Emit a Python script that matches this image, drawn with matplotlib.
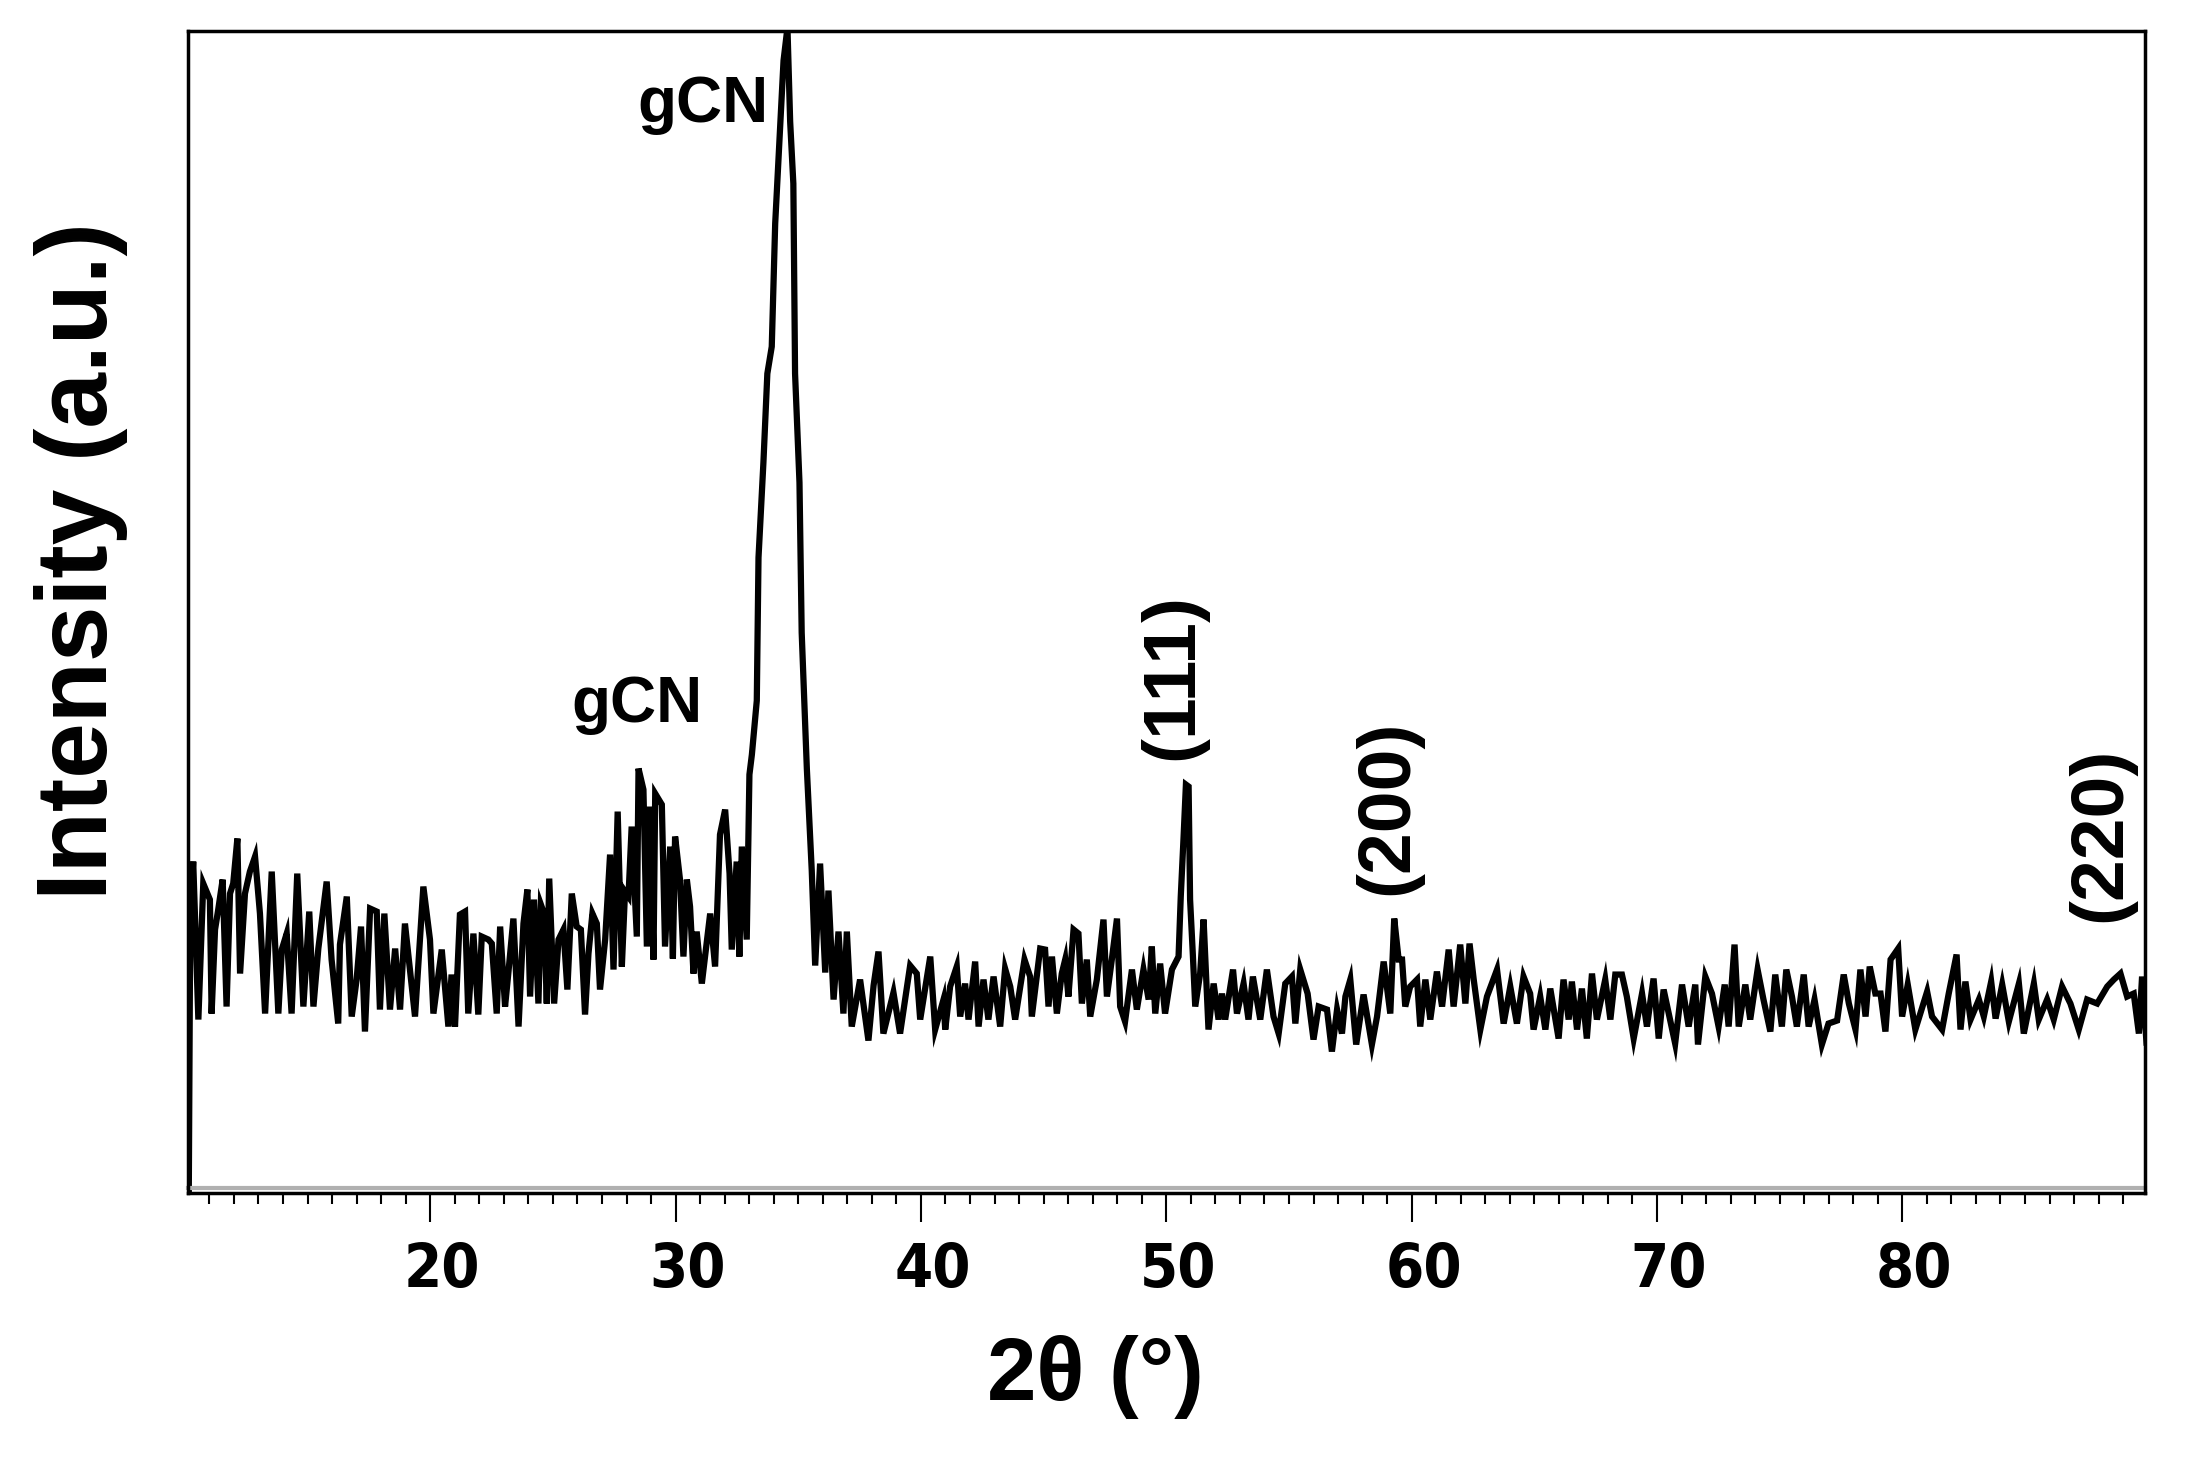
import matplotlib.pyplot as plt
from matplotlib.ticker import MultipleLocator
from matplotlib.transforms import ScaledTranslation

# 2-theta (degrees) and intensity (a.u.)
two_theta = [
    10.16, 10.22, 10.34, 10.55, 10.75, 11.02, 11.09, 11.23, 11.36, 11.54, 11.70, 11.84, 11.97,
    12.14, 12.25, 12.45, 12.65, 12.86, 13.06, 13.27, 13.54, 13.81, 13.95, 14.15, 14.35, 14.58,
    14.83, 15.07, 15.24, 15.44, 15.78, 15.98, 16.25, 16.32, 16.60, 16.80, 17.00, 17.18, 17.34,
    17.55, 17.82, 17.95, 18.13, 18.36, 18.57, 18.77, 18.97, 19.38, 19.72, 19.99, 20.13, 20.47,
    20.74, 20.87, 21.01, 21.21, 21.42, 21.55, 21.76, 21.96, 22.10, 22.37,
    22.51, 22.71, 22.85, 23.05, 23.19, 23.39, 23.60, 23.80, 23.96, 24.07, 24.23, 24.41, 24.51,
    24.64, 24.75, 24.85, 25.05, 25.23, 25.43, 25.59, 25.77, 25.97, 26.14, 26.31, 26.45, 26.61,
    26.79, 26.92, 27.13, 27.33, 27.47, 27.64, 27.81, 27.94, 28.08, 28.21, 28.42, 28.49, 28.69,
    28.83, 28.96, 29.10, 29.17, 29.44, 29.57, 29.78, 29.89, 29.98, 30.18, 30.32, 30.46, 30.59,
    30.73, 30.86, 31.07, 31.41, 31.61, 31.81, 32.02, 32.20, 32.29, 32.49, 32.60, 32.70, 32.90,
    33.01,
    33.11, 33.31, 33.38, 33.58, 33.74, 33.92, 34.06, 34.23, 34.40, 34.56, 34.67, 34.80, 34.87,
    35.05, 35.14, 35.35, 35.55, 35.69, 35.89, 36.10, 36.23, 36.44, 36.64, 36.84, 36.98, 37.18,
    37.52, 37.86, 38.07, 38.27, 38.47, 38.88, 39.15, 39.56,
    39.83, 39.97, 40.38, 40.58, 40.92, 40.99, 41.19, 41.46, 41.60, 41.80, 41.94, 42.21, 42.35,
    42.55, 42.75, 42.96, 43.23, 43.43, 43.64, 43.84, 44.22, 44.45, 44.52, 44.86, 45.06, 45.20,
    45.34, 45.54, 45.74, 45.88, 46.01, 46.22, 46.42, 46.56, 46.76, 46.90, 47.17, 47.44, 47.58,
    47.78, 47.99, 48.12, 48.32, 48.60, 48.80, 49.07, 49.28, 49.41, 49.55, 49.75, 49.95, 50.23,
    50.50, 50.59, 50.70, 50.80, 50.91, 50.97, 51.08, 51.18, 51.38, 51.52, 51.72, 51.93, 52.13,
    52.27, 52.40, 52.72, 52.88, 53.15, 53.35, 53.53, 53.83, 54.10, 54.37, 54.58, 54.85, 55.12,
    55.26, 55.46, 55.76, 56.00, 56.21, 56.55, 56.75, 56.96, 57.16, 57.30, 57.50, 57.74, 58.04,
    58.38, 58.59, 58.86, 59.13, 59.29, 59.47, 59.61, 59.74, 59.94, 60.22, 60.35, 60.56, 60.76,
    61.03, 61.24, 61.51, 61.71, 61.98, 62.19, 62.36, 62.53, 62.80, 63.07, 63.48, 63.75, 64.02,
    64.29, 64.56,
    64.83, 64.97, 65.24, 65.45, 65.65, 65.99, 66.19, 66.40, 66.53, 66.74, 66.94, 67.14, 67.35,
    67.55, 67.89, 68.10, 68.30, 68.57, 68.77, 69.05, 69.39, 69.59, 69.86, 70.07, 70.27, 70.74,
    71.02, 71.29, 71.56, 71.67, 71.97, 72.24, 72.51, 72.76, 72.92, 73.16, 73.33, 73.60, 73.80,
    74.10, 74.34, 74.62, 74.82, 75.09, 75.27, 75.50, 75.70, 75.98, 76.18, 76.42, 76.72, 76.99,
    77.34, 77.61, 77.82, 78.09, 78.29, 78.50, 78.67, 78.90, 79.11, 79.31, 79.52, 79.83, 79.99,
    80.22, 80.53, 81.01, 81.21, 81.62, 81.89, 82.21, 82.37, 82.57, 82.78, 83.12, 83.32, 83.62,
    83.80, 84.07, 84.34, 84.75, 84.95, 85.36, 85.56, 85.90, 86.17, 86.51, 86.85, 87.19, 87.53,
    87.94, 88.35, 88.62, 88.89, 89.16, 89.43, 89.64, 89.77, 89.95,
]
intensity = [
    0, 280, 331, 173, 309, 293, 179, 263, 283, 313, 186, 299, 309,
    354, 219, 299, 321, 336, 279, 179, 321, 179, 243, 259, 179, 319,
    186, 281, 186, 244, 311, 233, 169, 248, 296, 176, 213, 266, 161,
    284, 281, 183, 279, 183, 244, 183, 269, 176, 306, 253, 179, 243,
    166, 218, 166, 278, 281, 179, 259, 178, 256, 253,
    249, 179, 266, 186, 221, 274, 166, 269, 303, 196, 293, 189, 288,
    279, 189, 314, 189, 253, 263, 203, 299, 266, 263, 178, 239, 279,
    269, 203, 253, 338, 223, 381, 226, 301, 296, 366, 256, 424, 403,
    246, 386, 233, 399, 388, 246, 346, 234, 356, 313, 236, 313, 286,
    219, 261, 209, 279, 226, 358, 383, 319, 243, 331, 236, 346, 253,
    418,
    438, 492, 635, 730, 819, 846, 969, 1050, 1132, 1165, 1071, 1009, 819,
    710, 560, 424, 322, 227, 329, 220, 302, 193, 261, 179, 261, 166,
    213, 152, 207, 241, 159, 200, 159, 227,
    219, 173, 236, 163, 193, 163, 206, 226, 176, 209, 173, 231, 166,
    213, 173, 216, 166, 224, 206, 173, 233, 216, 176, 244, 243, 186,
    236, 179, 219, 233, 196, 263, 259, 189, 233, 176, 213, 273, 196,
    233, 274, 186, 171, 223, 183, 223, 193, 246, 179, 229, 179, 223,
    236, 296, 353, 408, 406, 293, 239, 186, 219, 273, 163, 209, 173,
    199, 173, 223, 179, 209, 173, 216, 173, 223, 176, 159, 209, 216,
    169, 223, 199, 153, 186, 183, 141, 183, 159, 196, 213, 148, 198,
    148, 176, 231, 179, 274, 233, 233, 186, 206, 213, 166, 213, 173,
    221, 186, 243, 186, 248, 189, 249, 213, 163, 196, 223, 169, 206,
    169, 216,
    199, 163, 196, 163, 204, 154, 213, 173, 211, 163, 204, 154, 219,
    173, 213, 173, 218, 218, 196, 154, 199, 166, 214, 154, 203, 149,
    208, 166, 208, 148, 216, 199, 166, 208, 166, 248, 166, 208, 173,
    223, 193, 161, 218, 166, 223, 196, 166, 218, 166, 193, 148, 169,
    172, 218, 189, 163, 223, 176, 226, 199, 199, 161, 233, 244, 176,
    208, 163, 201, 176, 163, 199, 238, 163, 211, 173, 193, 176, 211,
    174, 208, 171, 209, 159, 209, 173, 193, 173, 206, 189, 163, 193,
    189, 206, 213, 219, 196, 199, 159, 216, 150,
]

# peak annotations: text, 2-theta, intensity, rotation, size
peak_labels = ["gCN", "gCN", "(111)", "(200)", "(220)"]
label_x = [31.12, 28.43, 50.28, 59.03, 88.08]
label_y = [1088, 488, 516, 385, 358]
label_rot = [0, 0, 90, 90, 90]
label_size = [46, 46, 54, 54, 54]

fig = plt.figure(figsize=(21.87, 14.6), dpi=100)
ax = fig.add_axes([0.0861, 0.1832, 0.8947, 0.7958])

ax.plot(two_theta, intensity, color='black', lw=4.5, solid_joinstyle='miter')

ax.set_xlim(10.14, 89.89)
ax.set_ylim(0, 1162)

ax.xaxis.set_major_locator(MultipleLocator(10))
ax.xaxis.set_minor_locator(MultipleLocator(1))
ax.set_yticks([])
ax.tick_params(axis='x', which='major', direction='out', length=21, width=1.5,
               pad=14, labelsize=44)
ax.tick_params(axis='x', which='minor', direction='out', length=8, width=1.5)

for s in ax.spines.values():
    s.set_linewidth(2.5)
    s.set_color('black')
# grey shadow along the bottom frame
ax.plot([0, 1], [0.004, 0.004], transform=ax.transAxes, color='#b0b0b0', lw=3,
        clip_on=False)

# tick labels sit a bit right of their ticks in the original
shift = ScaledTranslation(0.12, 0, fig.dpi_scale_trans)
for tick in ax.xaxis.get_major_ticks():
    tick.label1.set_transform(tick.label1.get_transform() + shift)
    tick.label1.set_fontfamily(['Liberation Sans Narrow', 'DejaVu Sans'])
    tick.label1.set_fontstretch('condensed')
    tick.label1.set_fontweight('bold')

for txt, x, y, r, fs in zip(peak_labels, label_x, label_y, label_rot, label_size):
    ax.text(x, y, txt, rotation=r, ha='center', va='center', fontsize=fs,
            fontweight='bold', family=['Liberation Sans', 'DejaVu Sans'])

fig.text(0.501, 0.057, "2θ (°)", ha='center', va='center', fontsize=64,
         fontweight='bold', family=['Liberation Sans', 'DejaVu Sans'])
fig.text(0.037, 0.616, "Intensity (a.u.)", rotation=90, ha='center', va='center',
         fontsize=72, fontweight='bold', family=['Liberation Sans', 'DejaVu Sans'])

fig.savefig('out.png', dpi=100)
